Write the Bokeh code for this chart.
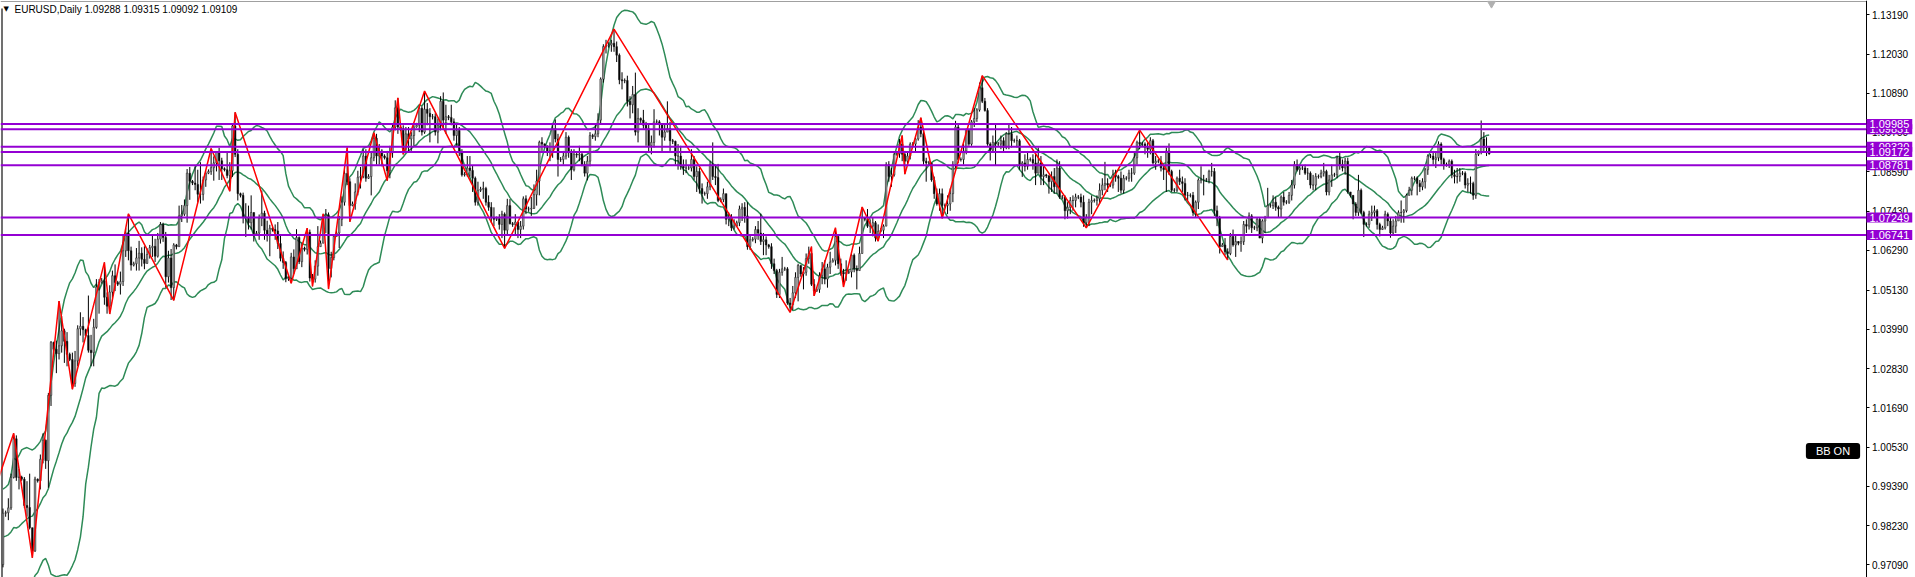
import pandas as pd
from bokeh.plotting import figure
from bokeh.models import Range1d, FixedTicker, PrintfTickFormatter, Label, ColumnDataSource, LinearAxis
from bokeh.embed import file_html
from bokeh.resources import INLINE

# ---------------- data (prices in 1e-4 units) ----------------
symbol = "EURUSD,Daily"
prior_closes = [9737, 9814, 9802, 9790, 9826, 9988, 9883, 9792, 9740, 9735,
                9705, 9706, 9705, 9781, 9720, 9725, 9837, 9855, 9774, 9780]
first_open = 9710
closes = [
9860, 9862, 9876, 9965, 10078, 9965, 9966, 9960, 9883, 9877,
9818, 9750, 9960, 9955, 10018, 10074, 10014, 10205, 10360, 10340,
10327, 10350, 10394, 10363, 10325, 10310, 10240, 10306, 10400, 10407,
10397, 10380, 10337, 10330, 10404, 10522, 10536, 10540, 10492, 10466,
10507, 10555, 10535, 10530, 10538, 10628, 10680, 10628, 10586, 10590,
10607, 10621, 10603, 10591, 10617, 10637, 10641, 10612, 10662, 10705,
10667, 10552, 10607, 10520, 10645, 10640, 10730, 10735, 10760, 10855,
10831, 10826, 10822, 10793, 10793, 10835, 10855, 10860, 10871, 10885,
10916, 10891, 10868, 10865, 10848, 10862, 10993, 10910, 10795, 10790,
10726, 10726, 10710, 10740, 10678, 10680, 10723, 10738, 10688, 10672,
10694, 10690, 10686, 10649, 10606, 10594, 10546, 10548, 10610, 10575,
10667, 10596, 10636, 10632, 10682, 10548, 10545, 10583, 10640, 10650,
10730, 10733, 10576, 10608, 10670, 10680, 10720, 10770, 10854, 10830,
10760, 10765, 10800, 10843, 10845, 10905, 10840, 10845, 10900, 10957,
10905, 10920, 10905, 10900, 10862, 10915, 10990, 11046, 10990, 10985,
10925, 10970, 10955, 10965, 10990, 10995, 11045, 10975, 11042, 11030,
11020, 11020, 10975, 10995, 11065, 11010, 11020, 11018, 11005, 10965,
10980, 10915, 10850, 10852, 10870, 10863, 10840, 10770, 10805, 10808,
10810, 10770, 10755, 10725, 10720, 10722, 10705, 10735, 10688, 10760,
10707, 10705, 10712, 10690, 10700, 10780, 10750, 10750, 10752, 10792,
10832, 10945, 10940, 10935, 10920, 10915, 10985, 10955, 10895, 10895,
10905, 10960, 10915, 10865, 10910, 10908, 10910, 10880, 10855, 10890,
10965, 10962, 10970, 11010, 11130, 11225, 11228, 11230, 11235, 11225,
11200, 11128, 11125, 11126, 11065, 11055, 11085, 10975, 11015, 11010,
10995, 10985, 10935, 10945, 11005, 11005, 10997, 10960, 10975, 10985,
10950, 10948, 10905, 10905, 10875, 10870, 10870, 10870, 10895, 10845,
10860, 10810, 10795, 10795, 10815, 10880, 10845, 10842, 10775, 10778,
10795, 10720, 10725, 10695, 10700, 10710, 10750, 10755, 10730, 10640,
10660, 10662, 10690, 10680, 10655, 10660, 10645, 10640, 10590, 10570,
10500, 10565, 10575, 10575, 10475, 10470, 10505, 10550, 10585, 10560,
10565, 10605, 10620, 10530, 10510, 10515, 10555, 10575, 10545, 10580,
10595, 10600, 10670, 10590, 10565, 10560, 10565, 10566, 10615, 10575,
10570, 10620, 10725, 10720, 10700, 10700, 10710, 10665, 10685, 10688,
10700, 10880, 10845, 10850, 10910, 10912, 10940, 10910, 10890, 10905,
10940, 10940, 10955, 10990, 10970, 10890, 10885, 10885, 10835, 10795,
10765, 10795, 10760, 10760, 10765, 10795, 10880, 10990, 10895, 10895,
10920, 10980, 10940, 11005, 11015, 11040, 11105, 11065, 11038, 10940,
10922, 10945, 10940, 10940, 10950, 10930, 10970, 10970, 10950, 10950,
10950, 10880, 10885, 10875, 10895, 10895, 10885, 10855, 10885, 10845,
10850, 10847, 10830, 10845, 10815, 10870, 10785, 10785, 10745, 10755,
10775, 10775, 10785, 10785, 10770, 10710, 10725, 10770, 10775, 10775,
10780, 10805, 10820, 10825, 10820, 10820, 10850, 10845, 10840, 10805,
10840, 10840, 10855, 10855, 10900, 10945, 10940, 10940, 10930, 10925,
10950, 10885, 10890, 10890, 10870, 10865, 10920, 10860, 10805, 10805,
10840, 10830, 10825, 10790, 10790, 10790, 10740, 10770, 10835, 10835,
10835, 10835, 10860, 10860, 10745, 10725, 10640, 10645, 10625, 10620,
10670, 10645, 10655, 10650, 10655, 10705, 10700, 10730, 10695, 10695,
10720, 10665, 10715, 10725, 10760, 10760, 10770, 10755, 10750, 10785,
10770, 10770, 10790, 10820, 10880, 10865, 10870, 10870, 10855, 10855,
10820, 10820, 10845, 10845, 10855, 10860, 10800, 10835, 10850, 10850,
10900, 10880, 10870, 10890, 10800, 10790, 10765, 10740, 10805, 10740,
10705, 10705, 10735, 10740, 10745, 10705, 10690, 10695, 10735, 10715,
10680, 10700, 10715, 10740, 10740, 10745, 10790, 10805, 10840, 10840,
10825, 10815, 10830, 10865, 10905, 10905, 10895, 10900, 10940, 10895,
10880, 10880, 10890, 10850, 10845, 10845, 10855, 10855, 10820, 10825,
10825, 10790, 10910, 10915, 10955, 10930, 10929]
highs = [
9874, 9868, 9904, 9976, 10094, 10088, 9990, 9970, 9966, 9954,
9976, 9815, 9967, 9962, 10032, 10094, 10076, 10212, 10364, 10362,
10365, 10481, 10437, 10400, 10390, 10330, 10330, 10335, 10410, 10448,
10434, 10400, 10497, 10382, 10429, 10545, 10545, 10548, 10594, 10506,
10527, 10570, 10588, 10540, 10567, 10672, 10694, 10736, 10640, 10596,
10636, 10657, 10638, 10641, 10635, 10645, 10675, 10663, 10680, 10712,
10710, 10683, 10628, 10633, 10650, 10648, 10760, 10762, 10778, 10867,
10873, 10835, 10875, 10865, 10887, 10845, 10860, 10866, 10927, 10904,
10918, 10929, 10900, 10872, 10915, 10887, 11000, 11033, 10925, 10798,
10798, 10767, 10760, 10790, 10735, 10686, 10734, 10804, 10745, 10716,
10704, 10698, 10705, 10712, 10672, 10626, 10598, 10555, 10622, 10632,
10691, 10670, 10650, 10640, 10694, 10690, 10560, 10600, 10700, 10658,
10736, 10750, 10740, 10625, 10675, 10688, 10730, 10787, 10872, 10930,
10840, 10772, 10825, 10862, 10873, 10925, 10925, 10852, 10920, 10973,
10970, 10940, 10925, 10910, 10920, 10935, 11000, 11068, 11075, 10995,
10995, 10990, 10990, 10975, 11000, 11002, 11052, 11050, 11095, 11060,
11045, 11028, 11030, 11015, 11080, 11091, 11055, 11025, 11055, 11015,
11000, 10990, 10925, 10858, 10905, 10905, 10877, 10845, 10830, 10815,
10830, 10815, 10790, 10770, 10755, 10728, 10735, 10745, 10740, 10780,
10779, 10712, 10735, 10712, 10715, 10787, 10790, 10757, 10785, 10822,
10865, 10950, 10960, 10942, 10935, 10945, 10995, 11012, 10970, 10902,
10920, 10975, 10965, 10925, 10925, 10915, 10935, 10915, 10890, 10905,
10975, 10970, 11000, 11030, 11135, 11232, 11245, 11238, 11245, 11276,
11240, 11205, 11150, 11132, 11140, 11080, 11110, 11149, 11045, 11018,
11040, 11005, 11000, 10965, 11042, 11012, 11010, 11000, 11000, 11065,
11005, 10955, 10950, 10940, 10935, 10895, 10895, 10876, 10925, 10905,
10875, 10870, 10825, 10801, 10830, 10890, 10945, 10880, 10882, 10784,
10810, 10795, 10740, 10735, 10720, 10716, 10760, 10767, 10770, 10770,
10675, 10668, 10700, 10715, 10736, 10680, 10670, 10648, 10650, 10605,
10575, 10575, 10610, 10581, 10580, 10490, 10525, 10565, 10590, 10568,
10580, 10620, 10640, 10640, 10545, 10521, 10565, 10595, 10600, 10590,
10625, 10606, 10695, 10675, 10605, 10575, 10600, 10572, 10620, 10620,
10585, 10640, 10756, 10726, 10750, 10720, 10725, 10715, 10705, 10694,
10705, 10887, 10890, 10870, 10915, 10918, 10955, 10965, 10920, 10915,
10945, 10946, 10965, 11010, 11017, 10985, 10900, 10891, 10885, 10845,
10810, 10810, 10810, 10766, 10790, 10810, 10890, 11008, 11000, 10901,
10940, 10985, 10985, 11010, 11045, 11045, 11120, 11140, 11075, 11045,
10945, 10965, 10998, 10946, 10965, 10960, 10975, 11000, 10990, 10956,
10965, 10955, 10890, 10910, 10915, 10901, 10910, 10915, 10930, 10905,
10875, 10853, 10850, 10860, 10870, 10895, 10890, 10791, 10790, 10770,
10785, 10790, 10795, 10791, 10795, 10790, 10735, 10780, 10790, 10781,
10790, 10825, 10840, 10888, 10840, 10826, 10865, 10865, 10850, 10860,
10850, 10846, 10865, 10870, 10915, 10950, 10981, 10946, 10945, 10945,
10960, 10955, 10905, 10896, 10905, 10880, 10930, 10942, 10865, 10811,
10845, 10865, 10845, 10840, 10800, 10796, 10800, 10775, 10840, 10875,
10850, 10841, 10865, 10885, 10870, 10760, 10730, 10651, 10665, 10635,
10680, 10690, 10675, 10656, 10670, 10715, 10720, 10740, 10735, 10701,
10725, 10725, 10720, 10730, 10812, 10766, 10790, 10785, 10760, 10790,
10800, 10776, 10800, 10835, 10890, 10895, 10875, 10876, 10880, 10870,
10860, 10850, 10855, 10851, 10865, 10885, 10865, 10850, 10880, 10856,
10905, 10916, 10895, 10900, 10900, 10796, 10790, 10770, 10850, 10810,
10745, 10711, 10745, 10760, 10760, 10750, 10710, 10701, 10745, 10740,
10725, 10720, 10730, 10746, 10775, 10750, 10795, 10815, 10845, 10846,
10845, 10835, 10840, 10870, 10910, 10911, 10920, 10915, 10948, 10945,
10900, 10886, 10895, 10895, 10865, 10870, 10870, 10861, 10860, 10840,
10845, 10830, 10925, 10921, 11009, 10975, 10960]
lows = [
9702, 9850, 9840, 9870, 9962, 9955, 9930, 9955, 9875, 9850,
9813, 9730, 9747, 9950, 9930, 10006, 9990, 9935, 10174, 10335,
10270, 10310, 10330, 10300, 10290, 10305, 10223, 10230, 10290, 10380,
10360, 10375, 10330, 10290, 10290, 10400, 10444, 10532, 10470, 10444,
10443, 10490, 10510, 10525, 10500, 10525, 10610, 10600, 10570, 10582,
10570, 10570, 10582, 10574, 10590, 10605, 10610, 10595, 10608, 10649,
10654, 10520, 10535, 10484, 10483, 10632, 10640, 10712, 10730, 10710,
10777, 10820, 10805, 10770, 10766, 10775, 10815, 10852, 10850, 10833,
10860, 10835, 10835, 10860, 10840, 10802, 10844, 10902, 10775, 10784,
10708, 10668, 10690, 10690, 10655, 10672, 10660, 10700, 10660, 10655,
10612, 10684, 10660, 10633, 10597, 10575, 10536, 10540, 10533, 10560,
10578, 10589, 10580, 10626, 10617, 10538, 10524, 10535, 10555, 10640,
10655, 10680, 10516, 10550, 10600, 10672, 10636, 10700, 10760, 10820,
10713, 10758, 10748, 10790, 10810, 10840, 10830, 10838, 10790, 10890,
10880, 10880, 10875, 10895, 10833, 10840, 10900, 10980, 10970, 10978,
10910, 10920, 10915, 10920, 10935, 10988, 10975, 10965, 10970, 10995,
10945, 11012, 10965, 10942, 10980, 10985, 10970, 11010, 10995, 10950,
10935, 10905, 10845, 10845, 10845, 10845, 10800, 10760, 10760, 10800,
10780, 10760, 10745, 10710, 10700, 10715, 10690, 10665, 10635, 10675,
10705, 10698, 10675, 10665, 10665, 10690, 10735, 10742, 10730, 10750,
10760, 10790, 10920, 10928, 10905, 10890, 10900, 10945, 10845, 10888,
10880, 10895, 10900, 10835, 10860, 10900, 10890, 10875, 10845, 10834,
10875, 10955, 10950, 10960, 11000, 11120, 11205, 11222, 11210, 11210,
11180, 11115, 11100, 11118, 11050, 11015, 11030, 10965, 10945, 11002,
10985, 10935, 10915, 10910, 10930, 10998, 10965, 10915, 10950, 10975,
10920, 10940, 10880, 10865, 10865, 10850, 10855, 10864, 10860, 10835,
10800, 10795, 10766, 10789, 10780, 10805, 10835, 10820, 10770, 10770,
10770, 10705, 10700, 10686, 10690, 10702, 10700, 10715, 10710, 10631,
10630, 10655, 10650, 10660, 10645, 10615, 10615, 10634, 10575, 10560,
10490, 10490, 10555, 10569, 10470, 10448, 10455, 10490, 10480, 10552,
10515, 10555, 10590, 10525, 10496, 10508, 10505, 10530, 10530, 10520,
10560, 10594, 10585, 10575, 10555, 10522, 10540, 10560, 10550, 10565,
10515, 10570, 10620, 10714, 10695, 10680, 10670, 10655, 10656, 10682,
10665, 10700, 10830, 10815, 10845, 10906, 10900, 10890, 10852, 10880,
10895, 10934, 10915, 10950, 10960, 10880, 10830, 10879, 10830, 10780,
10760, 10745, 10723, 10754, 10735, 10745, 10770, 10870, 10885, 10889,
10880, 10910, 10935, 10935, 10990, 11005, 11035, 11060, 11035, 10935,
10892, 10915, 10877, 10934, 10925, 10915, 10925, 10925, 10930, 10944,
10930, 10865, 10844, 10860, 10865, 10889, 10865, 10820, 10855, 10820,
10820, 10841, 10795, 10800, 10795, 10795, 10780, 10779, 10720, 10722,
10735, 10745, 10755, 10779, 10755, 10698, 10695, 10700, 10735, 10769,
10760, 10765, 10790, 10805, 10800, 10814, 10810, 10830, 10800, 10795,
10795, 10834, 10830, 10830, 10850, 10880, 10925, 10934, 10910, 10900,
10910, 10880, 10865, 10884, 10860, 10835, 10800, 10850, 10800, 10799,
10800, 10820, 10800, 10775, 10775, 10784, 10730, 10724, 10750, 10825,
10790, 10829, 10825, 10845, 10730, 10700, 10620, 10639, 10615, 10601,
10615, 10640, 10610, 10644, 10625, 10645, 10680, 10690, 10680, 10689,
10685, 10665, 10650, 10680, 10725, 10754, 10750, 10745, 10725, 10725,
10760, 10764, 10765, 10775, 10810, 10860, 10850, 10864, 10850, 10835,
10810, 10805, 10805, 10839, 10840, 10845, 10790, 10790, 10815, 10844,
10840, 10865, 10860, 10850, 10795, 10784, 10720, 10730, 10730, 10735,
10668, 10699, 10695, 10715, 10725, 10690, 10670, 10689, 10690, 10700,
10666, 10675, 10680, 10715, 10710, 10710, 10740, 10790, 10790, 10834,
10790, 10800, 10805, 10810, 10850, 10899, 10880, 10870, 10890, 10880,
10865, 10874, 10870, 10840, 10825, 10825, 10830, 10849, 10810, 10800,
10795, 10777, 10780, 10905, 10910, 10915, 10905]
last_bar = [1.09288, 1.09315, 1.09092, 1.09109]   # open, high, low, close

zz_index = [-20, 4, 11, 21, 26, 38, 40, 47, 64, 78, 85, 87, 108, 114, 116, 120, 122,
            129, 130, 139, 144, 148, 150, 158, 188, 229, 295, 303, 304, 312, 315,
            322, 328, 337, 338, 344, 352, 367, 406, 426, 459]
zz_price = [0.9536, 1.0094, 0.9730, 1.0481, 1.0223, 1.0594, 1.0443, 1.0736, 1.0483,
            1.0927, 1.0802, 1.1033, 1.0533, 1.0694, 1.0524, 1.0736, 1.0516, 1.0930,
            1.0713, 1.0973, 1.0833, 1.1075, 1.0910, 1.1095, 1.0635, 1.1276, 1.0448,
            1.0640, 1.0496, 1.0695, 1.0522, 1.0756, 1.0656, 1.0965, 1.0852, 1.1017,
            1.0723, 1.1140, 1.0695, 1.0981, 1.0601]

level_prices = [1.09831, 1.09985, 1.09320, 1.09172, 1.08781, 1.07249, 1.06741]
axis_ticks = [0.97090, 0.98230, 0.99390, 1.00530, 1.01690, 1.02830, 1.03990, 1.05130,
              1.06290, 1.07430, 1.08590, 1.09750, 1.10890, 1.12030, 1.13190]
bb_period = 20
bb_dev = 2.0

# ---------------- layout constants (pixels) ----------------
W, H_PX = 1915, 577
AXIS_PX = 1865.5
SHIFT_MARK_PX = 1491
CANDLE_X0, CANDLE_STEP = 2.5, 2.6682
PX_PER_PRICE, REF_PRICE, REF_PX = 3419.0, 1.13190, 14.0


def price_at(py):
    return REF_PRICE - (py - REF_PX) / PX_PER_PRICE


def xdata(px):
    return (px - CANDLE_X0) / CANDLE_STEP


# ---------------- build OHLC ----------------
n = min(len(closes), len(highs), len(lows))
O, H, L, C = [], [], [], []
prev = first_open
for i in range(n):
    o = prev / 1e4
    c = closes[i] / 1e4
    h = max(highs[i] / 1e4, o, c)
    l = min(lows[i] / 1e4, o, c)
    O.append(o); H.append(h); L.append(l); C.append(c)
    prev = closes[i]
O.append(last_bar[0]); H.append(last_bar[1]); L.append(last_bar[2]); C.append(last_bar[3])
N = len(C)
xs = list(range(N))

bull = [c >= o for o, c in zip(O, C)]
src = ColumnDataSource(dict(
    x=xs, o=O, h=H, l=L, c=C,
    top=[max(o, c) for o, c in zip(O, C)],
    bot=[min(o, c) for o, c in zip(O, C)],
    fill=["#a3a3a3" if b else "#000000" for b in bull],
))

# Bollinger bands on closes
allc = pd.Series([v / 1e4 for v in prior_closes] + C)
mid = allc.rolling(bb_period).mean()
sd = allc.rolling(bb_period).std(ddof=0)
off = len(prior_closes)
bb_mid = mid.iloc[off:].tolist()
bb_up = (mid + bb_dev * sd).iloc[off:].tolist()
bb_lo = (mid - bb_dev * sd).iloc[off:].tolist()

# ---------------- figure ----------------
p = figure(frame_width=W, frame_height=H_PX,
           x_range=Range1d(xdata(0), xdata(W)),
           y_range=Range1d(price_at(H_PX), price_at(0)),
           y_axis_location=None, x_axis_location=None,
           output_backend="svg", toolbar_location=None,
           min_border_left=0, min_border_top=0, min_border_bottom=0, min_border_right=0)
p.outline_line_color = None
p.background_fill_color = "white"
p.border_fill_color = "white"
p.xgrid.visible = False
p.ygrid.visible = False

ax = LinearAxis(fixed_location=xdata(AXIS_PX))
ax.ticker = FixedTicker(ticks=axis_ticks, minor_ticks=[])
ax.formatter = PrintfTickFormatter(format="%.5f")
ax.axis_line_color = "#000000"
ax.major_tick_line_color = "#000000"
ax.major_tick_out = 3
ax.major_tick_in = 0
ax.minor_tick_line_color = None
ax.major_label_standoff = 3
ax.major_label_text_font = "Liberation Sans"
ax.major_label_text_font_size = "10px"
ax.major_label_text_color = "#000000"
p.add_layout(ax, "right")

# chart borders and shift marker
p.segment(x0=[xdata(0)], y0=[price_at(1)], x1=[xdata(AXIS_PX)], y1=[price_at(1)],
          line_color="#a0a0a0", line_width=1)
p.segment(x0=[xdata(1.5)], y0=[price_at(8)], x1=[xdata(1.5)], y1=[price_at(H_PX)],
          line_color="#404040", line_width=1.5)
p.scatter(x=[xdata(SHIFT_MARK_PX)], y=[price_at(3)], marker="inverted_triangle", size=8,
          fill_color="#b0b0b0", line_color="#b0b0b0")

green = "#2E8B57"
p.line(xs, bb_up, line_color=green, line_width=1.5)
p.line(xs, bb_mid, line_color=green, line_width=1.5)
p.line(xs, bb_lo, line_color=green, line_width=1.5)

p.segment(x0="x", y0="l", x1="x", y1="h", source=src, line_color="#000000", line_width=1)
p.vbar(x="x", width=0.62, top="top", bottom="bot", source=src,
       fill_color="fill", line_color="#1a1a1a", line_width=0.5)

p.line(zz_index, zz_price, line_color="#FF0000", line_width=1.5)

p.segment(x0=[xdata(0)] * len(level_prices), y0=level_prices,
          x1=[xdata(AXIS_PX)] * len(level_prices), y1=level_prices,
          line_color="#9400D3", line_width=2)

# price labels of the horizontal levels on the axis
for lv in level_prices:
    p.add_layout(Label(x=1866, y=lv, x_units="screen", y_units="data",
                       text="%.5f" % lv, text_font="Liberation Sans", text_font_size="11px",
                       text_color="white", text_baseline="middle", text_align="left",
                       background_fill_color="#9400D3", padding=(3, 1)))

# header
p.add_layout(Label(x=3, y=H_PX - 8.5, x_units="screen", y_units="screen", text="\u25bc",
                   text_font="DejaVu Sans", text_font_size="7px", text_color="#000000",
                   text_baseline="middle", text_align="left"))
hdr = "%s  %.5f %.5f %.5f %.5f" % (symbol, last_bar[0], last_bar[1], last_bar[2], last_bar[3])
p.add_layout(Label(x=14, y=H_PX - 8.5, x_units="screen", y_units="screen", text=hdr,
                   text_font="Liberation Sans", text_font_size="10px", text_color="#000000",
                   text_baseline="middle", text_align="left"))

# BB ON badge
p.add_layout(Label(x=1832.5, y=price_at(450.5), x_units="screen", y_units="data", text="BB ON",
                   text_font="Liberation Sans", text_font_size="11px", text_color="white",
                   text_baseline="middle", text_align="center",
                   background_fill_color="#000000", padding=(10, 2), border_radius=3))

open("out.html", "w").write(file_html(p, INLINE))
